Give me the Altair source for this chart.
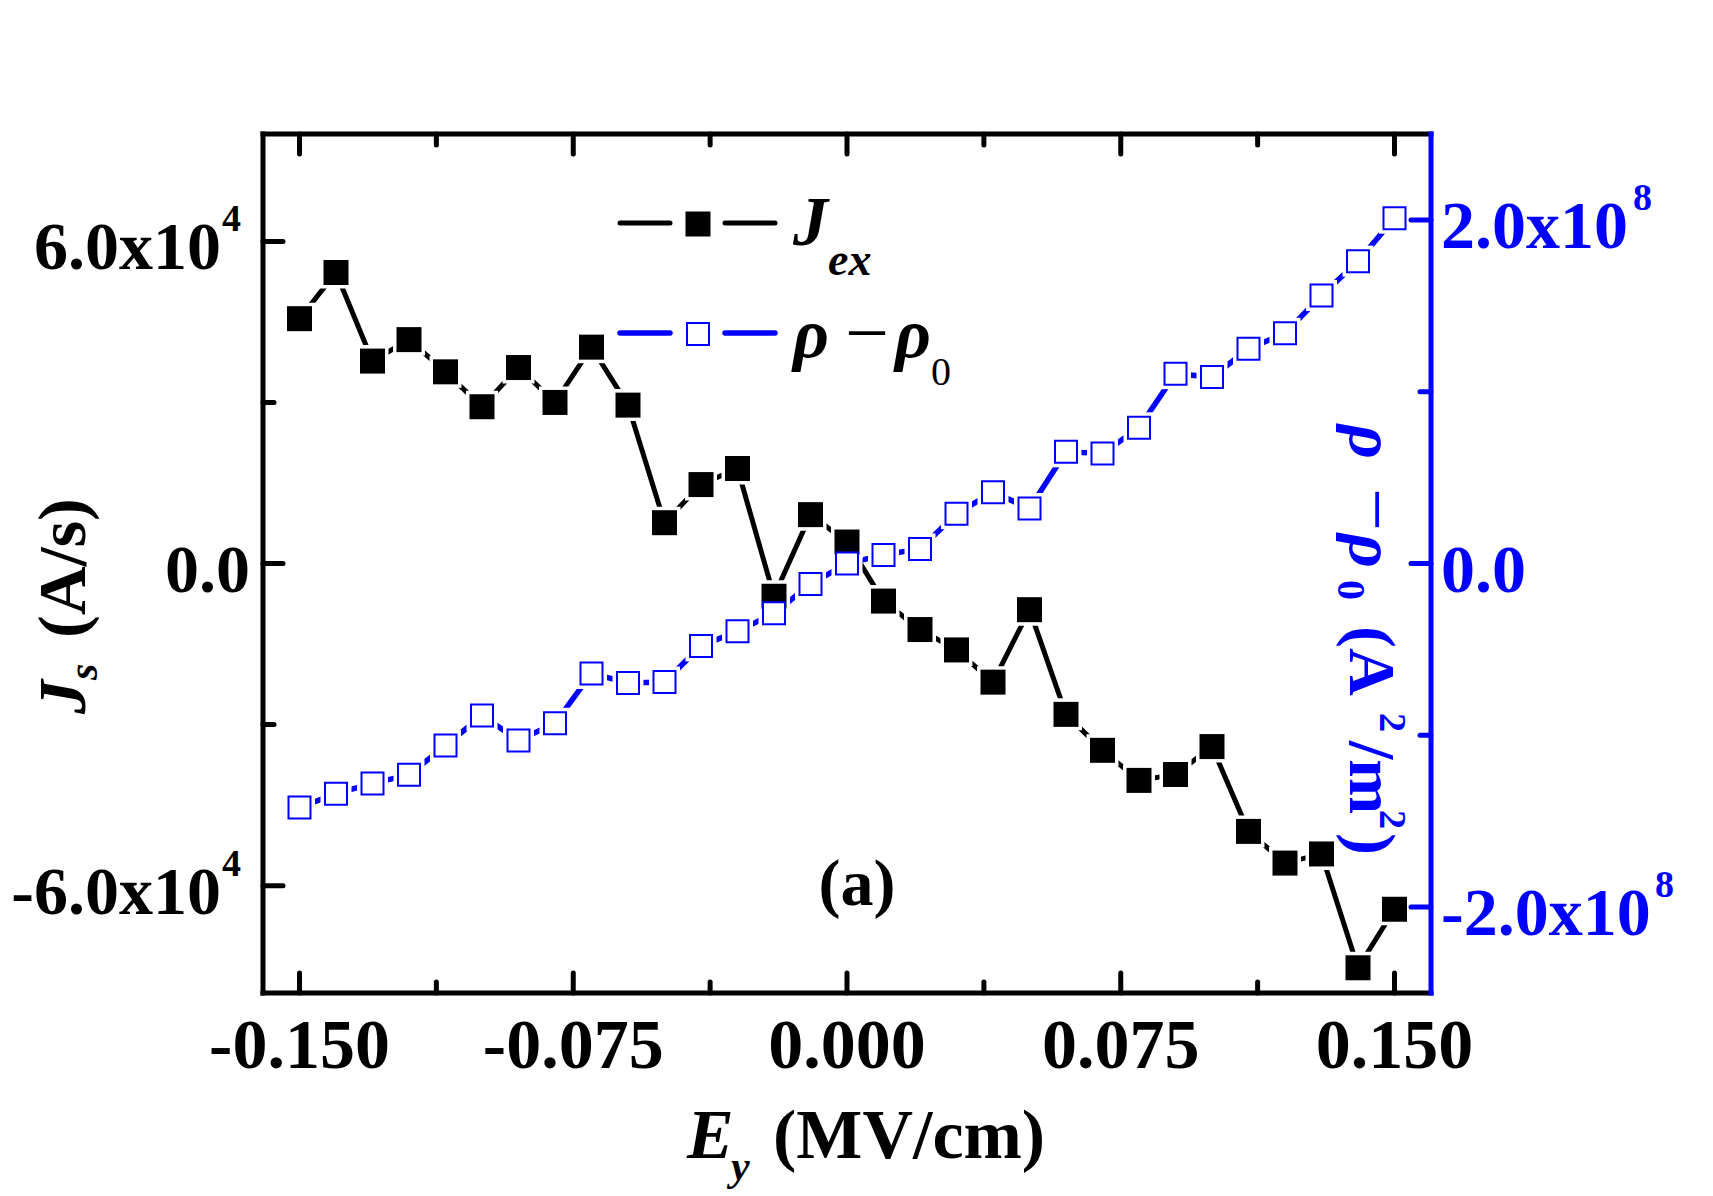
import altair as alt
import pandas as pd

# ---------------- data ----------------
E_FIELD = [-0.15, -0.14, -0.13, -0.12, -0.11, -0.10, -0.09, -0.08, -0.07, -0.06,
           -0.05, -0.04, -0.03, -0.02, -0.01, 0.00, 0.01, 0.02, 0.03, 0.04,
           0.05, 0.06, 0.07, 0.08, 0.09, 0.10, 0.11, 0.12, 0.13, 0.14, 0.15]
J_EX = [45600, 54200, 37700, 41700, 35700, 29200, 36500, 30000, 40300, 29500,
        7600, 14700, 17700, -6100, 9100, 4000, -7000, -12300, -16100, -22100,
        -8600, -28100, -34800, -40400, -39300, -34100, -49900, -55800, -54100, -75300,
        -64400]
RHO = [-1.42e8, -1.34e8, -1.28e8, -1.23e8, -1.06e8, -0.885e8, -1.03e8, -0.93e8, -0.64e8, -0.695e8,
       -0.69e8, -0.48e8, -0.395e8, -0.29e8, -0.12e8, 0.0, 0.05e8, 0.085e8, 0.29e8, 0.415e8,
       0.32e8, 0.65e8, 0.64e8, 0.79e8, 1.105e8, 1.085e8, 1.25e8, 1.34e8, 1.56e8, 1.76e8,
       2.01e8]

X_MAJOR = [-0.15, -0.075, 0.0, 0.075, 0.15]
X_MAJOR_LABELS = ["-0.150", "-0.075", "0.000", "0.075", "0.150"]
X_MINOR = [-0.1125, -0.0375, 0.0375, 0.1125]
J_MAJOR = [-6e4, 0, 6e4]
J_MINOR = [-3e4, 3e4]
R_MAJOR = [-2e8, 0, 2e8]
R_MINOR = [-1e8, 1e8]

W, H = 1168, 859
FONT = "Liberation Serif"
BLUE = "#0000FF"

df = pd.DataFrame({"E": E_FIELD, "J": J_EX, "rho": RHO})
one = pd.DataFrame({"a": [0]})

xs = alt.Scale(domain=[-0.16, 0.16], nice=False, zero=False)
js = alt.Scale(domain=[-8e4, 8e4], nice=False, zero=False)
rs = alt.Scale(domain=[-2.5e8, 2.5e8], nice=False, zero=False)

X = alt.X("E:Q", scale=xs, axis=None)
YJ = alt.Y("J:Q", scale=js, axis=None)
YR = alt.Y("rho:Q", scale=rs, axis=None)

base = alt.Chart(df)
jline = base.mark_line(color="black", strokeWidth=5, strokeCap="round").encode(x=X, y=YJ)
rline = base.mark_line(color=BLUE, strokeWidth=5.5, strokeCap="round").encode(x=X, y=YR)
jgap = base.mark_square(color="white", size=32 * 32, opacity=1, filled=True).encode(x=X, y=YJ)
rgap = base.mark_square(color="white", size=31 * 31, opacity=1, filled=True).encode(x=X, y=YR)
jpts = base.mark_square(color="black", size=625, opacity=1, filled=True).encode(x=X, y=YJ)
rpts = base.mark_square(fill="white", stroke=BLUE, strokeWidth=2, size=484, opacity=1,
                        filled=True).encode(x=X, y=YR)


def rule(x=None, x2=None, y=None, y2=None, color="black", width=5, cap="square"):
    enc = {}
    for k, v in (("x", x), ("x2", x2), ("y", y), ("y2", y2)):
        if v is not None:
            enc[k] = alt.value(v)
    return alt.Chart(one).mark_rule(color=color, strokeWidth=width, strokeCap=cap).encode(**enc)


frame = [
    rule(x=0, y=0, y2=H),
    rule(x=0, x2=W, y=0),
    rule(x=0, x2=W, y=H),
    rule(x=W, y=0, y2=H, color=BLUE),
]


def xticks(vals, length):
    d = alt.Chart(pd.DataFrame({"v": vals}))
    xv = alt.X("v:Q", scale=xs, axis=None)
    return [
        d.mark_rule(color="black", strokeWidth=5, strokeCap="round").encode(
            x=xv, y=alt.value(H), y2=alt.value(H - length)),
        d.mark_rule(color="black", strokeWidth=5, strokeCap="round").encode(
            x=xv, y=alt.value(0), y2=alt.value(length)),
    ]


def yticks(vals, scale, length, right=False, color="black"):
    d = alt.Chart(pd.DataFrame({"v": vals}))
    yv = alt.Y("v:Q", scale=scale, axis=None)
    if right:
        return d.mark_rule(color=color, strokeWidth=5, strokeCap="round").encode(
            y=yv, x=alt.value(W), x2=alt.value(W - length))
    return d.mark_rule(color=color, strokeWidth=5, strokeCap="round").encode(
        y=yv, x=alt.value(0), x2=alt.value(length))


ticks = xticks(X_MAJOR, 20) + xticks(X_MINOR, 11) + [
    yticks(J_MAJOR, js, 20), yticks(J_MINOR, js, 11),
    yticks(R_MAJOR, rs, 20, True, BLUE), yticks(R_MINOR, rs, 11, True, BLUE),
]


def txt(s, x, y, size=68, weight="bold", style="normal", align="left", angle=0, color="black"):
    return alt.Chart(one).mark_text(
        text=s, font=FONT, fontSize=size, fontWeight=weight, fontStyle=style,
        align=align, baseline="alphabetic", angle=angle, color=color,
    ).encode(x=alt.value(x), y=alt.value(y))


# x tick labels
xlab = alt.Chart(pd.DataFrame({"v": X_MAJOR, "lab": X_MAJOR_LABELS})).mark_text(
    font=FONT, fontSize=70, fontWeight="bold", align="center", baseline="alphabetic"
).encode(x=alt.X("v:Q", scale=xs, axis=None), y=alt.value(934), text="lab:N")

# left tick labels
lmain = alt.Chart(pd.DataFrame({"v": [6e4, -6e4], "lab": ["6.0x10", "-6.0x10"]})).mark_text(
    font=FONT, fontSize=68, fontWeight="bold", align="right", baseline="alphabetic", dy=28
).encode(y=alt.Y("v:Q", scale=js, axis=None), x=alt.value(-42), text="lab:N")
lsup = alt.Chart(pd.DataFrame({"v": [6e4, -6e4], "lab": ["4", "4"]})).mark_text(
    font=FONT, fontSize=38, fontWeight="bold", align="right", baseline="alphabetic", dy=-10
).encode(y=alt.Y("v:Q", scale=js, axis=None), x=alt.value(-22), text="lab:N")
lzero = alt.Chart(pd.DataFrame({"v": [0.0], "lab": ["0.0"]})).mark_text(
    font=FONT, fontSize=68, fontWeight="bold", align="right", baseline="alphabetic", dy=28
).encode(y=alt.Y("v:Q", scale=js, axis=None), x=alt.value(-13), text="lab:N")

# right tick labels
rmain = alt.Chart(pd.DataFrame({"v": [2e8, 0.0, -2e8], "lab": ["2.0x10", "0.0", "-2.0x10"]})).mark_text(
    font=FONT, fontSize=68, fontWeight="bold", align="left", baseline="alphabetic", dy=28, color=BLUE
).encode(y=alt.Y("v:Q", scale=rs, axis=None), x=alt.value(W + 10), text="lab:N")
rsup_p = alt.Chart(pd.DataFrame({"v": [2e8], "lab": ["8"]})).mark_text(
    font=FONT, fontSize=38, fontWeight="bold", align="left", baseline="alphabetic", dy=-10, color=BLUE
).encode(y=alt.Y("v:Q", scale=rs, axis=None), x=alt.value(W + 202), text="lab:N")
rsup_n = alt.Chart(pd.DataFrame({"v": [-2e8], "lab": ["8"]})).mark_text(
    font=FONT, fontSize=38, fontWeight="bold", align="left", baseline="alphabetic", dy=-10, color=BLUE
).encode(y=alt.Y("v:Q", scale=rs, axis=None), x=alt.value(W + 224), text="lab:N")

# axis titles
xtitle = [
    txt("E", 424, 1024, 70, style="italic"),
    txt("y", 468, 1046, 42, style="italic"),
    txt("(MV/cm)", 510, 1024, 70),
]
ltitle = [
    txt("J", -178, 580, 68, style="italic", angle=270),
    txt("s", -166, 546, 42, style="italic", angle=270),
    txt("(A/s)", -178, 504, 68, angle=270),
]
rt_x = 1087
rtitle = [
    txt("ρ", rt_x, 291, 66, style="italic", angle=90, color=BLUE),
    txt("−", rt_x + 2, 354, 76, weight="normal", angle=90, color=BLUE),
    txt("ρ", rt_x, 400, 66, style="italic", angle=90, color=BLUE),
    txt("0", rt_x - 12, 446, 40, angle=90, color=BLUE),
    txt("(A", rt_x, 492, 66, angle=90, color=BLUE),
    txt("2", rt_x + 30, 579, 38, angle=90, color=BLUE),
    txt("/m", rt_x, 607, 66, angle=90, color=BLUE),
    txt("2", rt_x + 30, 676, 38, angle=90, color=BLUE),
    txt(")", rt_x, 699, 66, angle=90, color=BLUE),
]

# legend
legend = [
    rule(x=357, x2=407, y=89, width=5, cap="round"),
    rule(x=462, x2=512, y=89, width=5, cap="round"),
    alt.Chart(one).mark_square(color="black", size=625, opacity=1, filled=True).encode(
        x=alt.value(435), y=alt.value(90)),
    txt("J", 530, 111, 70, style="italic"),
    txt("ex", 565, 141, 46, style="italic"),
    rule(x=357, x2=407, y=199, color=BLUE, width=5.5, cap="round"),
    rule(x=462, x2=512, y=199, color=BLUE, width=5.5, cap="round"),
    alt.Chart(one).mark_square(fill="white", stroke=BLUE, strokeWidth=2, size=484, opacity=1,
                               filled=True).encode(x=alt.value(435), y=alt.value(200)),
    txt("ρ", 530, 223, 70, style="italic"),
    txt("−", 582, 225, 78, weight="normal"),
    txt("ρ", 632, 223, 70, style="italic"),
    txt("0", 668, 251, 40, weight="normal"),
]

panel = txt("(a)", 594, 771, 66, align="center")

layers = [jline, rline, jgap, rgap, jpts, rpts] + frame + ticks + [
    xlab, lmain, lsup, lzero, rmain, rsup_p, rsup_n] + xtitle + ltitle + rtitle + legend + [panel]

chart = alt.layer(*layers).resolve_scale(y="independent").properties(
    width=W, height=H,
    padding={"left": 263, "top": 134, "right": 282, "bottom": 203},
    autosize=alt.AutoSizeParams(type="none"),
    background="white",
).configure_view(strokeWidth=0)

chart.save("out.html", embed_options={"renderer": "svg", "actions": False})
